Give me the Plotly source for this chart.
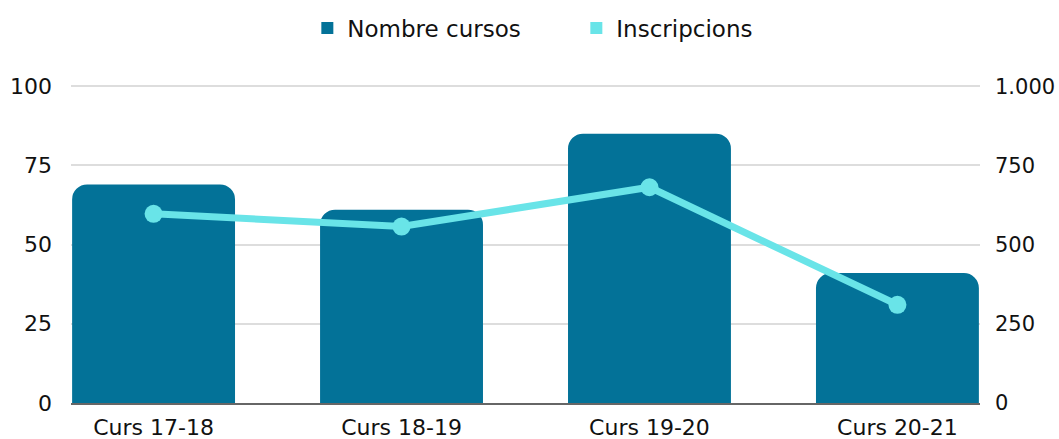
import plotly.graph_objects as go

categories = ["Curs 17-18", "Curs 18-19", "Curs 19-20", "Curs 20-21"]
nombre_cursos = [69, 61, 85, 41]
inscripcions = [597, 557, 681, 310]
left_ticks = [0, 25, 50, 75, 100]
right_ticks = [0, 250, 500, 750, 1000]

bar_color = "#037298"
line_color = "#69E4E8"
font_family = "DejaVu Sans"

fig = go.Figure()
fig.add_trace(go.Bar(
    x=categories, y=nombre_cursos, name="Nombre cursos",
    marker=dict(color=bar_color, line=dict(width=0)),
    showlegend=False, yaxis="y",
))
fig.add_trace(go.Scatter(
    x=categories, y=inscripcions, name="Inscripcions", mode="lines+markers",
    line=dict(color=line_color, width=7),
    marker=dict(color=line_color, size=18),
    showlegend=False, yaxis="y2",
))
# legend entries with square symbols
fig.add_trace(go.Scatter(x=[None], y=[None], mode="markers", name="Nombre cursos",
                         marker=dict(symbol="square", size=12, color=bar_color)))
fig.add_trace(go.Scatter(x=[None], y=[None], mode="markers", name="Inscripcions",
                         marker=dict(symbol="square", size=12, color=line_color)))

fig.update_layout(
    width=1059, height=439,
    margin=dict(l=71, r=79, t=83, b=36),
    paper_bgcolor="white", plot_bgcolor="white",
    font=dict(family=font_family, size=22, color="#111111"),
    separators=",.",
    bargap=0.343,
    barcornerradius=15,
    legend=dict(orientation="h", x=0.26, xanchor="left", y=0.985, yanchor="top",
                yref="container", font=dict(size=23), entrywidth=224,
                itemwidth=30),
    xaxis=dict(range=[-0.333, 3.333], showgrid=False, showline=True,
               linecolor="#666666", linewidth=2,
               ticks="", ticklabelstandoff=4, automargin=False),
    yaxis=dict(range=[0, 101], tickvals=left_ticks, showgrid=True, gridcolor="#DDDDDD",
               gridwidth=1.5, zeroline=False, showline=False, ticks="",
               ticklabelstandoff=18, automargin=False),
    yaxis2=dict(range=[0, 1010], tickvals=right_ticks, overlaying="y", side="right",
                showgrid=False, zeroline=False, showline=False, ticks="",
                ticklabelstandoff=14, tickformat=",d", automargin=False,
                tickfont=dict(size=21)),
)
fig.write_html("out.html", config={"displayModeBar": False},
               post_script="document.body.style.margin='0';")
